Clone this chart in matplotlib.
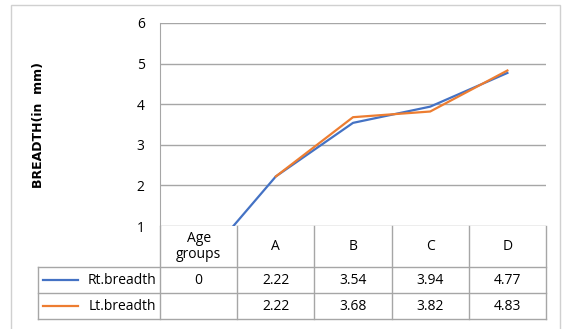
import numpy as np
import matplotlib.pyplot as plt
from matplotlib.lines import Line2D
from matplotlib.patches import Rectangle

plt.rcParams['font.family'] = ['Open Sans', 'DejaVu Sans']

categories = ['Age\ngroups', 'A', 'B', 'C', 'D']
rt_breadth = [0, 2.22, 3.54, 3.94, 4.77]
lt_breadth = [np.nan, 2.22, 3.68, 3.82, 4.83]
rt_labels = ['0', '2.22', '3.54', '3.94', '4.77']
lt_labels = ['', '2.22', '3.68', '3.82', '4.83']
series = [('Rt.breadth', rt_breadth, rt_labels, '#4472C4'),
          ('Lt.breadth', lt_breadth, lt_labels, '#ED7D31')]

W, H = 563, 329
fs = 10
fig = plt.figure(figsize=(W / 100, H / 100), dpi=100)
fig.patches.append(Rectangle((11 / W, -0.01), 549 / W, 1 - 5 / H + 0.01,
                             transform=fig.transFigure, fill=False,
                             edgecolor='#d0d0d0', linewidth=1))

ax = fig.add_axes([160 / W, 1 - 226 / H, 386 / W, 203 / H])
x = np.arange(len(categories))
for name, vals, labs, col in series:
    ax.plot(x, vals, color=col, linewidth=1.6)

ax.set_xlim(-0.5, len(categories) - 0.5)
ax.set_ylim(1, 6)
ax.set_yticks(range(1, 7))
ax.yaxis.grid(True, color='#a6a6a6', linewidth=1)
ax.set_axisbelow(True)
ax.tick_params(axis='y', length=0, pad=11, labelsize=fs)
ax.set_xticks([])
for s in ['top', 'right', 'bottom']:
    ax.spines[s].set_visible(False)
ax.spines['left'].set_color('#a6a6a6')
ax.set_ylabel('BREADTH(in  mm)', fontsize=9, fontweight='bold',
              family=['Liberation Sans Narrow', 'DejaVu Sans'])
ax.yaxis.set_label_coords((45 - 160) / 386, 0.5)

# data table below the plot, in axes coordinates
px = 1 / 203
row_y = [0, -41 * px, -67 * px, -93 * px]
col_x = [(i) / len(categories) for i in range(len(categories) + 1)]
leg_left = (38 - 160) / 386
lc = '#a6a6a6'
kw = dict(transform=ax.transAxes, clip_on=False, color=lc, linewidth=1)

for xx in col_x:
    ax.add_line(Line2D([xx, xx], [row_y[0], row_y[3]], **kw))
for yy in row_y[1:]:
    ax.add_line(Line2D([leg_left, 1], [yy, yy], **kw))
ax.add_line(Line2D([leg_left, leg_left], [row_y[1], row_y[3]], **kw))

for i, c in enumerate(categories):
    cx = (i + 0.5) / len(categories)
    ax.text(cx, (row_y[0] + row_y[1]) / 2, c, transform=ax.transAxes,
            ha='center', va='center', fontsize=fs, linespacing=1.15)

for r, (name, vals, labs, col) in enumerate(series):
    cy = (row_y[r + 1] + row_y[r + 2]) / 2
    ax.add_line(Line2D([(43 - 160) / 386, (78 - 160) / 386], [cy, cy],
                       transform=ax.transAxes, clip_on=False, color=col,
                       linewidth=1.6))
    ax.text(-4 / 386, cy, name, transform=ax.transAxes, ha='right',
            va='center', fontsize=fs)
    for i, lab in enumerate(labs):
        cx = (i + 0.5) / len(categories)
        ax.text(cx, cy, lab, transform=ax.transAxes, ha='center',
                va='center', fontsize=fs)

fig.savefig('out.png', dpi=100)
